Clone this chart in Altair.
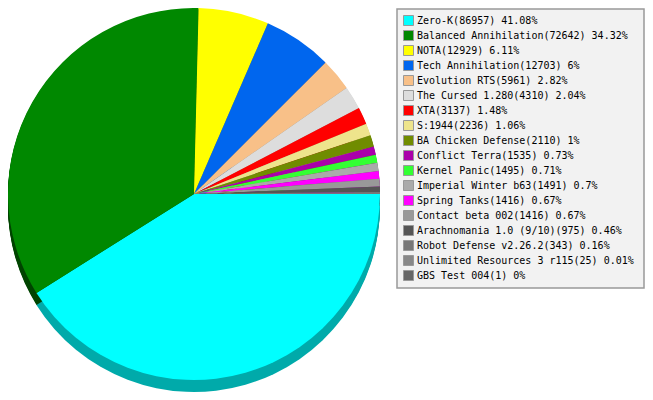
import altair as alt
import pandas as pd
import math

names = ["Zero-K", "Balanced Annihilation", "NOTA", "Tech Annihilation", "Evolution RTS",
         "The Cursed 1.280", "XTA", "S:1944", "BA Chicken Defense", "Conflict Terra",
         "Kernel Panic", "Imperial Winter b63", "Spring Tanks", "Contact beta 002",
         "Arachnomania 1.0 (9/10)", "Robot Defense v2.26.2", "Unlimited Resources 3 r115",
         "GBS Test 004"]
counts = [86957, 72642, 12929, 12703, 5961, 4310, 3137, 2236, 2110, 1535, 1495, 1491,
          1416, 1416, 975, 343, 25, 1]
pcts = ["41.08%", "34.32%", "6.11%", "6%", "2.82%", "2.04%", "1.48%", "1.06%", "1%",
        "0.73%", "0.71%", "0.7%", "0.67%", "0.67%", "0.46%", "0.16%", "0.01%", "0%"]
colors = ["#00ffff", "#008800", "#ffff00", "#0066ee", "#f8c088", "#dddddd", "#ff0000",
          "#eee48c", "#708c00", "#aa00aa", "#33ff33", "#aaaaaa", "#ff00ff", "#999999",
          "#555555", "#777777", "#888888", "#666666"]
shadows = ["#00aaaa", "#004400", "#aaaa00", "#00449e", "#a5805a", "#939393", "#aa0000",
           "#9e985d", "#4a5d00", "#710071", "#22aa22", "#717171", "#aa00aa", "#666666",
           "#393939", "#4f4f4f", "#5b5b5b", "#444444"]

labels = [f"{n}({c}) {p}" for n, c, p in zip(names, counts, pcts)]
df = pd.DataFrame({"label": labels, "count": counts, "idx": list(range(len(labels))),
                   "shadow": shadows})

CX, CY, R, DEPTH = 186, 186, 186, 12
theta_scale = alt.Scale(range=[math.pi / 2, math.pi / 2 + 2 * math.pi])

base = alt.Chart(df)

shadow_layers = []
for off in range(1, DEPTH + 1):
    shadow_layers.append(
        base.mark_arc(outerRadius=R).encode(
            theta=alt.Theta("count:Q", stack=True, scale=theta_scale),
            order=alt.Order("idx:Q"),
            fill=alt.Fill("shadow:N", scale=None),
            x=alt.value(CX),
            y=alt.value(CY + off),
        )
    )

top = base.mark_arc(outerRadius=R).encode(
    theta=alt.Theta("count:Q", stack=True, scale=theta_scale),
    order=alt.Order("idx:Q"),
    color=alt.Color(
        "label:N",
        scale=alt.Scale(domain=labels, range=colors),
        legend=alt.Legend(
            title=None,
            orient="none",
            legendX=395,
            legendY=7,
            direction="vertical",
            symbolType="square",
            symbolSize=100,
            symbolStrokeColor="#999999",
            symbolStrokeWidth=1,
            symbolOpacity=1,
            labelFont="DejaVu Sans Mono",
            labelFontSize=10,
            labelColor="#000000",
            labelOffset=3,
            labelLimit=400,
            rowPadding=0,
            padding=0,
        ),
    ),
    x=alt.value(CX),
    y=alt.value(CY),
)

box = alt.Chart(alt.Data(values=[{"a": 1}])).mark_rect(
    fill="#f2f2f2", stroke="#999999", strokeWidth=1.5
).encode(
    x=alt.value(389), x2=alt.value(636), y=alt.value(1), y2=alt.value(280)
)

chart = alt.layer(box, *shadow_layers, top).properties(
    width=637, height=384, padding=0, autosize=alt.AutoSizeParams(type="none")
).configure_view(stroke=None)

chart.save("out.html", embed_options={"renderer": "svg", "actions": False})
